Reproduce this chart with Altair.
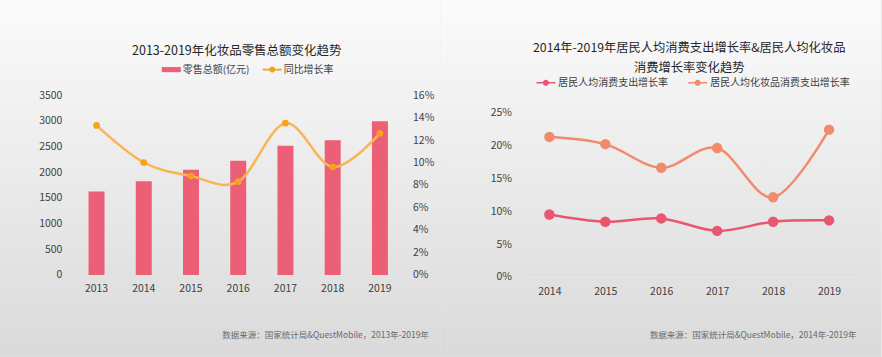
import altair as alt
import pandas as pd

# ---------------- data ----------------
years_left = ["2013", "2014", "2015", "2016", "2017", "2018", "2019"]
retail_sales = [1625, 1825, 2049, 2222, 2514, 2619, 2992]
yoy_growth = [0.133, 0.100, 0.088, 0.083, 0.135, 0.096, 0.126]
left_series = ["零售总额(亿元)", "同比增长率"]
left_title = "2013-2019年化妆品零售总额变化趋势"
left_source = "数据来源：国家统计局&QuestMobile，2013年-2019年"

years_right = ["2014", "2015", "2016", "2017", "2018", "2019"]
consumption_growth = [0.095, 0.084, 0.089, 0.070, 0.084, 0.086]
cosmetics_growth = [0.213, 0.202, 0.166, 0.196, 0.121, 0.224]
right_series = ["居民人均消费支出增长率", "居民人均化妆品消费支出增长率"]
right_title = "2014年-2019年居民人均消费支出增长率&居民人均化妆品\n消费增长率变化趋势"
right_source = "数据来源：国家统计局&QuestMobile，2014年-2019年"

left_ticks = [0, 500, 1000, 1500, 2000, 2500, 3000, 3500]
left_rate_ticks = [0, 0.02, 0.04, 0.06, 0.08, 0.10, 0.12, 0.14, 0.16]
right_ticks = [0, 0.05, 0.10, 0.15, 0.20, 0.25]

# ---------------- styles ----------------
FONT = "Noto Sans CJK SC"
BAR_C = "#EB5F77"
LINE_C = "#F9B553"
PT_C = "#F7A21B"
RED_C = "#E8566F"
SAL_C = "#F28A6C"
TXT = "#404040"

grad = alt.LinearGradient(
    gradient="linear", x1=0, x2=0, y1=0, y2=1,
    stops=[alt.GradientStop(color="#fbfbfb", offset=0),
           alt.GradientStop(color="#dadada", offset=1)],
)
RECT_SYM = "M-1,-0.27H1V0.27H-1Z"
LINE_SYM = "M-1,-0.08H1V0.08H-1Z M0.32,0A0.32,0.32 0 1 1 -0.32,0A0.32,0.32 0 1 1 0.32,0Z"

one = pd.DataFrame({"k": [0]})

PY0 = 95

# ---------------- left panel ----------------
dl = pd.DataFrame({
    "year": years_left,
    "sales": retail_sales,
    "rate": yoy_growth,
    "s1": [left_series[0]] * len(years_left),
    "s2": [left_series[1]] * len(years_left),
})
LW, LH = 331, 180
LX0 = 73

x_left = alt.X("year:O", title=None,
               scale=alt.Scale(paddingInner=0, paddingOuter=0),
               axis=alt.Axis(labelAngle=0, ticks=False, domain=False, grid=False, zindex=2,
                             labelPadding=9, labelFontSize=10.5, labelColor=TXT, labelFont=FONT))

bg_l = alt.Chart(one).mark_rect(color=grad).encode(
    x=alt.value(-LX0), x2=alt.value(441 - LX0), y=alt.value(-PY0), y2=alt.value(357 - PY0))

bars = alt.Chart(dl).mark_bar(size=16).encode(
    x=x_left,
    y=alt.Y("sales:Q", title=None, scale=alt.Scale(domain=[0, 3500]),
            axis=alt.Axis(values=left_ticks, format="d", ticks=False, domain=False, grid=False,
                          zindex=2, labelPadding=11, labelFontSize=10.5, labelColor=TXT,
                          labelFont=FONT)),
    color=alt.Color("s1:N", scale=alt.Scale(range=[BAR_C]),
                    legend=alt.Legend(title=None, orient="none", legendX=89, legendY=-35,
                                      symbolType=RECT_SYM, symbolSize=361, symbolStrokeWidth=0,
                                      labelFontSize=10, labelColor=TXT, labelFont=FONT,
                                      labelOffset=2, padding=0)),
)

y_rate = alt.Y("rate:Q", title=None, scale=alt.Scale(domain=[0, 0.16]),
               axis=alt.Axis(orient="right", values=left_rate_ticks, format=".0%", zindex=2,
                             ticks=False, domain=False, grid=False, labelPadding=9,
                             labelFontSize=10.5, labelColor=TXT, labelFont=FONT))
rate_line = alt.Chart(dl).mark_line(interpolate="cardinal", strokeWidth=2.5, color=LINE_C).encode(
    x=x_left, y=y_rate)
rate_pts = alt.Chart(dl).mark_point(filled=True, size=45, opacity=1).encode(
    x=x_left, y=y_rate,
    color=alt.Color("s2:N", scale=alt.Scale(range=[PT_C]),
                    legend=alt.Legend(title=None, orient="none", legendX=190, legendY=-35,
                                      symbolType=LINE_SYM, symbolSize=361, symbolStrokeWidth=0,
                                      labelFontSize=10, labelColor=TXT, labelFont=FONT,
                                      labelOffset=2, padding=0)),
)

title_l = alt.Chart(pd.DataFrame({"t": [left_title]})).mark_text(
    font=FONT, fontSize=12.5, color="#262626", align="center", baseline="middle").encode(
    text="t:N", x=alt.value(237 - LX0), y=alt.value(51 - PY0))
src_l = alt.Chart(pd.DataFrame({"t": [left_source]})).mark_text(
    font=FONT, fontSize=8.5, color="#6a6a6a", align="center", baseline="middle").encode(
    text="t:N", x=alt.value(326 - LX0), y=alt.value(335 - PY0))

left = alt.layer(
    bg_l, bars, alt.layer(rate_line, rate_pts), title_l, src_l
).resolve_scale(y="independent", color="independent").properties(width=LW, height=LH)

# ---------------- right panel ----------------
dr = pd.DataFrame({
    "year": years_right * 2,
    "value": consumption_growth + cosmetics_growth,
    "series": [right_series[0]] * len(years_right) + [right_series[1]] * len(years_right),
})
RW, RH = 336, 182
RX0 = 522
R_MAX = 0.25 * RH / 164.5

x_right = alt.X("year:O", title=None,
                scale=alt.Scale(type="point", padding=0.5),
                axis=alt.Axis(labelAngle=0, ticks=False, domain=True, domainColor="#e6e6e6",
                              grid=False, labelPadding=10, labelFontSize=10.5, zindex=2,
                              labelColor=TXT, labelFont=FONT))
y_right = alt.Y("value:Q", title=None, scale=alt.Scale(domain=[0, R_MAX], nice=False),
                axis=alt.Axis(values=right_ticks, format=".0%", ticks=False, domain=False,
                              grid=False, labelPadding=10, labelFontSize=10.5, zindex=2,
                              labelColor=TXT, labelFont=FONT))
leg_r = alt.Legend(title=None, orient="none", direction="horizontal",
                   legendX=15, legendY=-22,
                   symbolType=LINE_SYM, symbolSize=361, symbolStrokeWidth=0,
                   labelFontSize=10, labelColor=TXT, labelFont=FONT,
                   labelOffset=3, columnPadding=20, padding=0, labelLimit=300)
col_r = alt.Scale(domain=right_series, range=[RED_C, SAL_C])

bg_r = alt.Chart(one).mark_rect(color=grad).encode(
    x=alt.value(441 - RX0), x2=alt.value(882 - RX0), y=alt.value(-PY0), y2=alt.value(357 - PY0))

lines_r = alt.Chart(dr).mark_line(interpolate="cardinal", strokeWidth=2.5).encode(
    x=x_right, y=y_right, color=alt.Color("series:N", scale=col_r, legend=leg_r))
pts_r = alt.Chart(dr).mark_point(filled=True, size=110, opacity=1).encode(
    x=x_right, y=y_right, color=alt.Color("series:N", scale=col_r, legend=leg_r))

title_r = alt.Chart(pd.DataFrame({"t": [right_title]})).mark_text(
    font=FONT, fontSize=12.3, color="#262626", align="center", baseline="middle",
    lineBreak="\n", lineHeight=20).encode(
    text="t:N", x=alt.value(690 - RX0), y=alt.value(48 - PY0))
src_r = alt.Chart(pd.DataFrame({"t": [right_source]})).mark_text(
    font=FONT, fontSize=8.5, color="#6a6a6a", align="center", baseline="middle").encode(
    text="t:N", x=alt.value(754 - RX0), y=alt.value(335 - PY0))

right = alt.layer(bg_r, lines_r, pts_r, title_r, src_r).properties(width=RW, height=RH)

# mark bounds carry a 1px margin: overlap the cells by 2px and pull the whole view back 1px
chart = alt.hconcat(left, right, spacing=-2).resolve_scale(
    color="independent", x="independent", y="independent"
).resolve_legend(color="independent").properties(
    padding={"left": -1, "top": -1, "right": 0, "bottom": 0}, background="#e9e9e9"
).configure_view(stroke=None).configure(font=FONT)

chart.save("out.html", embed_options={"renderer": "svg", "actions": False})
